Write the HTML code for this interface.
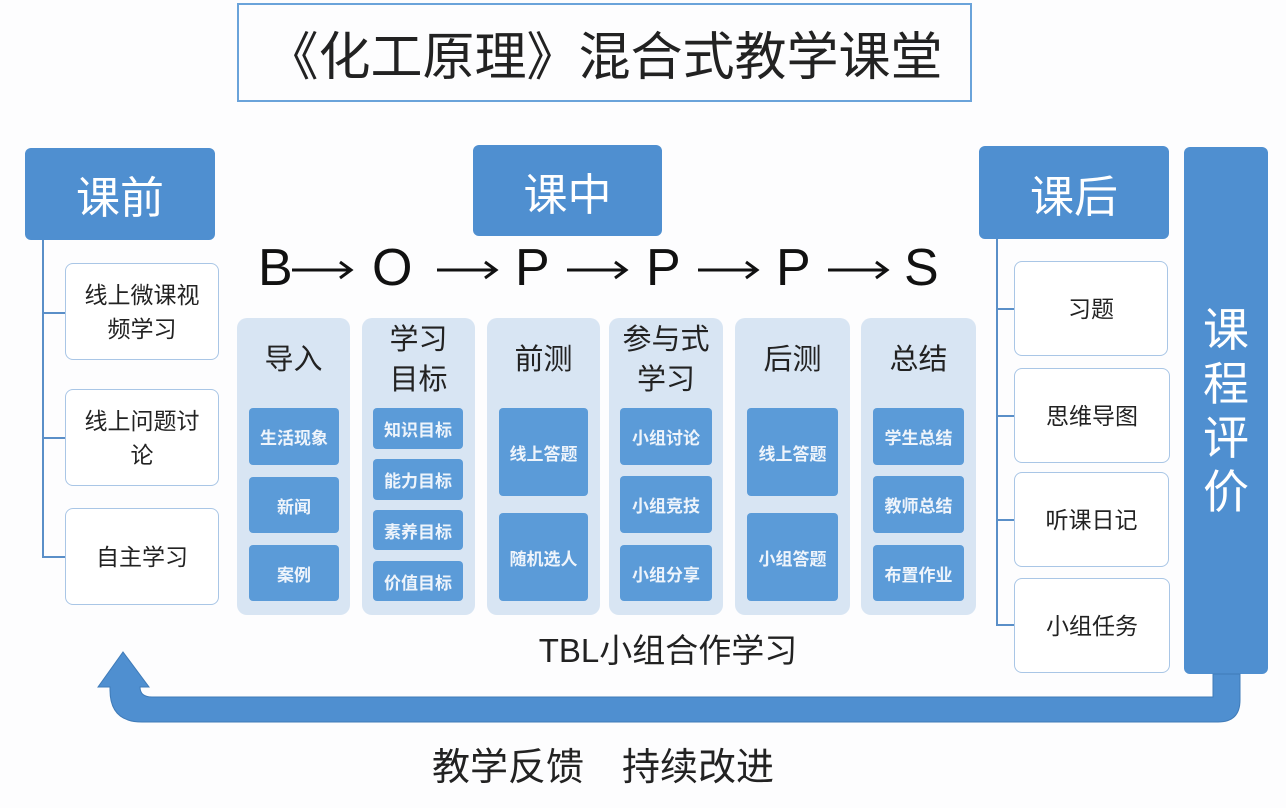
<!DOCTYPE html>
<html><head><meta charset="utf-8"><style>
body{margin:0;width:1286px;height:808px;background:#fdfdfe;position:relative;overflow:hidden;font-family:"Liberation Sans","Noto Sans CJK SC",sans-serif;}
.a{position:absolute;box-sizing:border-box;display:flex;align-items:center;justify-content:center;text-align:center;}
.hd{background:#4f8fd0;color:#fff;border-radius:6px;font-size:44px;}
.wb{background:#fff;border:1.5px solid #a9c6e6;border-radius:8px;font-size:23px;color:#222;line-height:34px;}
.pn{background:#d8e5f3;border-radius:10px;}
.ib{background:#5b9bd8;color:#eef4fb;font-size:17px;border-radius:4px;font-weight:bold;}
.pt{font-size:29px;color:#222;line-height:40px;}
.ln{position:absolute;background:#5a8fc8;}
.bo{position:absolute;font-size:52px;color:#111;top:238px;line-height:60px;}
</style></head><body>
<div class="a" style="left:237px;top:3px;width:735px;height:99px;border:2px solid #6aa3da;font-size:52px;color:#222;">《化工原理》混合式教学课堂</div>

<div class="a hd" style="left:25px;top:148px;width:190px;height:92px;">课前</div>
<div class="a hd" style="left:473px;top:145px;width:189px;height:91px;">课中</div>
<div class="a hd" style="left:979px;top:146px;width:190px;height:93px;">课后</div>
<div class="a hd" style="left:1184px;top:147px;width:84px;height:527px;font-size:46px;line-height:54px;">课<br>程<br>评<br>价</div>

<div class="ln" style="left:42px;top:240px;width:1.5px;height:317px;"></div>
<div class="ln" style="left:42px;top:312px;width:23px;height:1.5px;"></div>
<div class="ln" style="left:42px;top:437px;width:23px;height:1.5px;"></div>
<div class="ln" style="left:42px;top:556px;width:23px;height:1.5px;"></div>
<div class="a wb" style="left:65px;top:263px;width:154px;height:97px;">线上微课视<br>频学习</div>
<div class="a wb" style="left:65px;top:389px;width:154px;height:97px;">线上问题讨<br>论</div>
<div class="a wb" style="left:65px;top:508px;width:154px;height:97px;">自主学习</div>

<div class="ln" style="left:996px;top:239px;width:1.5px;height:386px;"></div>
<div class="ln" style="left:996px;top:308px;width:18px;height:1.5px;"></div>
<div class="ln" style="left:996px;top:415px;width:18px;height:1.5px;"></div>
<div class="ln" style="left:996px;top:519px;width:18px;height:1.5px;"></div>
<div class="ln" style="left:996px;top:624px;width:18px;height:1.5px;"></div>
<div class="a wb" style="left:1014px;top:261px;width:154px;height:95px;">习题</div>
<div class="a wb" style="left:1014px;top:368px;width:156px;height:95px;">思维导图</div>
<div class="a wb" style="left:1014px;top:472px;width:155px;height:95px;">听课日记</div>
<div class="a wb" style="left:1014px;top:578px;width:156px;height:95px;">小组任务</div>

<div class="bo" style="left:258px;">B</div>
<div class="bo" style="left:372px;">O</div>
<div class="bo" style="left:515px;">P</div>
<div class="bo" style="left:646px;">P</div>
<div class="bo" style="left:776px;">P</div>
<div class="bo" style="left:904px;">S</div>
<svg style="position:absolute;left:0;top:0" width="1286" height="808">
<g stroke="#111" stroke-width="3" fill="none">
<path d="M292,270 H350 M340,262 L351,270 L340,278"/>
<path d="M437,270 H495 M485,262 L496,270 L485,278"/>
<path d="M567,270 H625 M615,262 L626,270 L615,278"/>
<path d="M698,270 H756 M746,262 L757,270 L746,278"/>
<path d="M828,270 H886 M876,262 L887,270 L876,278"/>
</g>
<path d="M98,687 L123,652 L149,687 L140,687 Q140,697 152,697 L1213,697 L1213,674 L1240,674 L1240,700 Q1240,722 1218,722 L142,722 Q110,722 110,690 L110,687 Z" fill="#4f8fd0" stroke="#3f7bb8" stroke-width="1"/>
</svg>

<div class="a pn" style="left:237px;top:318px;width:113px;height:297px;"></div>
<div class="a pn" style="left:362px;top:318px;width:113px;height:297px;"></div>
<div class="a pn" style="left:487px;top:318px;width:113px;height:297px;"></div>
<div class="a pn" style="left:609px;top:318px;width:114px;height:297px;"></div>
<div class="a pn" style="left:735px;top:318px;width:115px;height:297px;"></div>
<div class="a pn" style="left:861px;top:318px;width:115px;height:297px;"></div>

<div class="a pt" style="left:237px;top:340px;width:113px;height:40px;">导入</div>
<div class="a pt" style="left:362px;top:320px;width:113px;height:80px;">学习<br>目标</div>
<div class="a pt" style="left:487px;top:340px;width:113px;height:40px;">前测</div>
<div class="a pt" style="left:609px;top:320px;width:114px;height:80px;">参与式<br>学习</div>
<div class="a pt" style="left:735px;top:340px;width:115px;height:40px;">后测</div>
<div class="a pt" style="left:861px;top:340px;width:115px;height:40px;">总结</div>

<div class="a ib" style="left:249px;top:408px;width:90px;height:57px;">生活现象</div>
<div class="a ib" style="left:249px;top:477px;width:90px;height:56px;">新闻</div>
<div class="a ib" style="left:249px;top:545px;width:90px;height:56px;">案例</div>
<div class="a ib" style="left:373px;top:408px;width:90px;height:41px;">知识目标</div>
<div class="a ib" style="left:373px;top:459px;width:90px;height:41px;">能力目标</div>
<div class="a ib" style="left:373px;top:510px;width:90px;height:40px;">素养目标</div>
<div class="a ib" style="left:373px;top:561px;width:90px;height:40px;">价值目标</div>
<div class="a ib" style="left:499px;top:408px;width:89px;height:88px;">线上答题</div>
<div class="a ib" style="left:499px;top:513px;width:89px;height:88px;">随机选人</div>
<div class="a ib" style="left:620px;top:408px;width:92px;height:57px;">小组讨论</div>
<div class="a ib" style="left:620px;top:476px;width:92px;height:57px;">小组竞技</div>
<div class="a ib" style="left:620px;top:545px;width:92px;height:56px;">小组分享</div>
<div class="a ib" style="left:747px;top:408px;width:91px;height:88px;">线上答题</div>
<div class="a ib" style="left:747px;top:513px;width:91px;height:88px;">小组答题</div>
<div class="a ib" style="left:873px;top:408px;width:91px;height:57px;">学生总结</div>
<div class="a ib" style="left:873px;top:476px;width:91px;height:57px;">教师总结</div>
<div class="a ib" style="left:873px;top:545px;width:91px;height:56px;">布置作业</div>

<div class="a" style="left:480px;top:627px;width:376px;height:42px;font-size:33px;color:#222;">TBL小组合作学习</div>
<div class="a" style="left:380px;top:739px;width:446px;height:48px;font-size:38px;color:#222;white-space:pre;">教学反馈　持续改进</div>
</body></html>
